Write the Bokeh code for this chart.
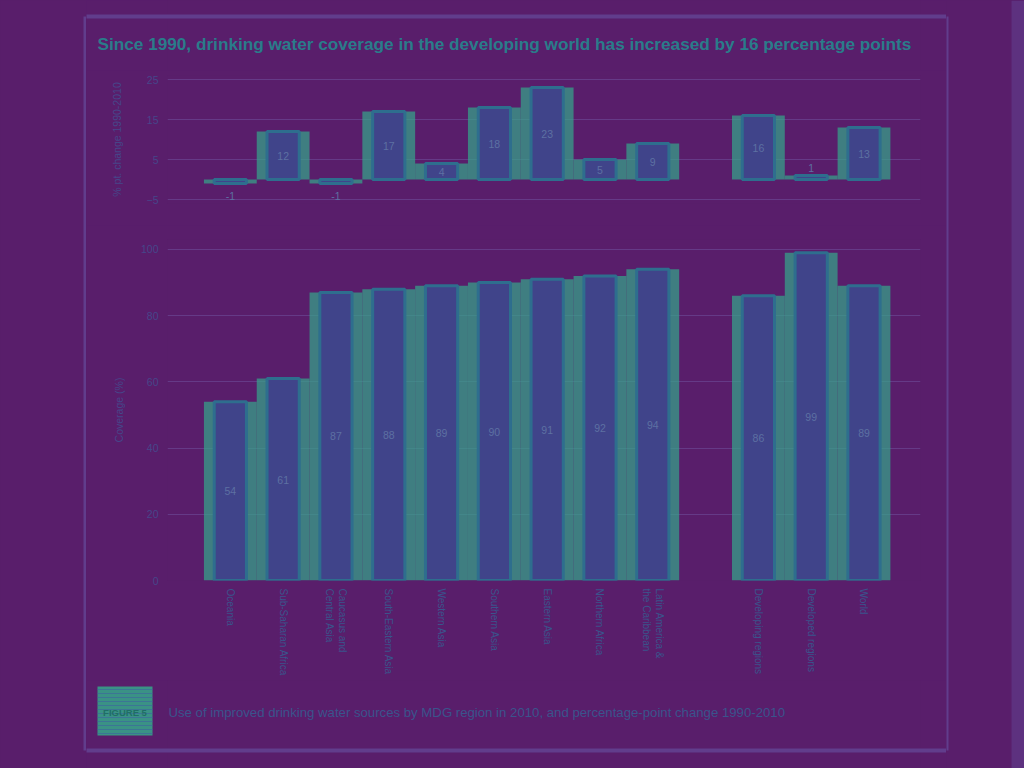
from bokeh.plotting import figure
from bokeh.layouts import column, row
from bokeh.models import Range1d, FixedTicker, ColumnDataSource
from bokeh.core.properties import value
from bokeh.embed import file_html
from bokeh.resources import INLINE

# ---------------- data ----------------
regions = ["Oceania", "Sub-Saharan Africa", "Caucasus and\nCentral Asia",
           "South-Eastern Asia", "Western Asia", "Southern Asia", "Eastern Asia",
           "Northern Africa", "Latin America &\nthe Caribbean",
           "Developing regions", "Developed regions", "World"]
coverage_2010 = [54, 61, 87, 88, 89, 90, 91, 92, 94, 86, 99, 89]
change_1990_2010 = [-1, 12, -1, 17, 4, 18, 23, 5, 9, 16, 1, 13]
n_mdg_regions = 9  # first 9 are MDG regions, the rest are aggregates
coverage_ticks = [0, 20, 40, 60, 80, 100]
change_ticks = [-5, 5, 15, 25]
title_text = "Since 1990, drinking water coverage in the developing world has increased by 16 percentage points"
figure_tag = "FIGURE 5"
caption_text = "Use of improved drinking water sources by MDG region in 2010, and percentage-point change 1990-2010"

# ---------------- style ----------------
BG = "#591e6b"
FRAME = "#613d8c"
BAR_FILL = "#40448a"
BAR_LINE = "#2e6e8e"
HALO = "#35a78a"
GRID = "#6b4693"
TICK_C = "#46468a"
CAT_C = "#3a548c"
VAL_C = "#5d70a2"
TITLE_C = "#2a7c8a"
SANS = "Liberation Sans, Arial, sans-serif"
BGSTYLE = {"background-color": BG}

xs = [i + (1 if i >= n_mdg_regions else 0) for i in range(len(regions))]
label_map = {x: r for x, r in zip(xs, regions)}


def val_pos(v, small=3):
    if abs(v) < small:
        return v + (1.8 if v > 0 else -3.0)
    return v / 2.0


src = ColumnDataSource(dict(
    x=xs, cov=coverage_2010, chg=change_1990_2010,
    cov_txt=[str(v) for v in coverage_2010],
    chg_txt=[str(v) for v in change_1990_2010],
    cov_lab=[v / 2.0 for v in coverage_2010],
    chg_lab=[val_pos(v) for v in change_1990_2010],
))

MID_W = 860
XR = (-1.19, 13.07)
BL, BR = 81, 26  # side borders of every figure in the middle column


def base_fig(h, **kw):
    return figure(width=MID_W, height=h, output_backend="svg", toolbar_location=None,
                  background_fill_color=BG, border_fill_color=BG, outline_line_color=None,
                  styles=BGSTYLE, **kw)


def strip(h, y0, w=MID_W, bl=BL, br=BR, x0=86):
    # frame covers page x (x0+bl)..(x0+w-br); ranges in page pixels
    p = figure(width=w, height=h, output_backend="svg", toolbar_location=None,
               x_range=Range1d(x0 + bl, x0 + w - br), y_range=Range1d(y0 + h, y0),
               x_axis_location=None, y_axis_location=None,
               background_fill_color=BG, border_fill_color=BG, outline_line_color=None,
               min_border_left=bl, min_border_right=br, min_border_top=0, min_border_bottom=0,
               styles=BGSTYLE)
    p.grid.visible = False
    return p


def style_y(p, ticks, label, standoff):
    ax = p.yaxis[0]
    ax.ticker = FixedTicker(ticks=ticks)
    ax.axis_line_color = None
    ax.major_tick_line_color = None
    ax.minor_tick_line_color = None
    ax.major_tick_out = 0
    ax.major_label_standoff = 9
    ax.major_label_text_font = SANS
    ax.major_label_text_font_size = "10.5px"
    ax.major_label_text_color = TICK_C
    ax.axis_label = label
    ax.axis_label_text_font = SANS
    ax.axis_label_text_font_size = "10.5px"
    ax.axis_label_text_font_style = "normal"
    ax.axis_label_text_color = TICK_C
    ax.axis_label_standoff = standoff
    p.ygrid.ticker = FixedTicker(ticks=ticks)
    p.ygrid.grid_line_color = GRID
    p.ygrid.grid_line_alpha = 0.7
    p.xgrid.visible = False


def bars(p, top, lab, txt):
    p.vbar(x="x", top=top, bottom=0, width=1.0, source=src, fill_color=HALO, fill_alpha=0.7,
           line_color=None)
    p.vbar(x="x", top=top, bottom=0, width=0.61, source=src, fill_color=BAR_FILL,
           line_color=BAR_LINE, line_width=3)
    p.text(x="x", y=lab, text=txt, source=src, text_font=value(SANS),
           text_font_size=value("10.5px"), text_color=VAL_C, text_align="center",
           text_baseline="middle")


# ---- title strip (page y 0..70)
t = strip(70, 0)
t.text(x=[97], y=[43], text=[title_text], text_font=value(SANS), text_font_size=value("17.2px"),
       text_font_style="bold", text_color=TITLE_C, text_align="left", text_baseline="middle",
       level="overlay")
t.segment(x0=[86], y0=[16], x1=[946], y1=[16], line_color=FRAME, line_width=4, level="overlay")

# ---- top chart (page y 70..225), frame 75..203
a = base_fig(155, x_range=Range1d(*XR), y_range=Range1d(-6, 26), x_axis_location=None,
             min_border_top=5, min_border_bottom=22, min_border_left=BL, min_border_right=BR)
style_y(a, change_ticks, "% pt. change 1990-2010", 21)
bars(a, "chg", "chg_lab", "chg_txt")

# ---- bottom chart (page y 225..680), frame 239..580
b = base_fig(455, x_range=Range1d(*XR), y_range=Range1d(0, 103.0),
             min_border_top=14, min_border_bottom=100, min_border_left=BL, min_border_right=BR)
style_y(b, coverage_ticks, "Coverage (%)", 13)
xa = b.xaxis[0]
xa.ticker = FixedTicker(ticks=xs)
xa.major_label_overrides = label_map
xa.major_label_orientation = "vertical"
xa.axis_line_color = None
xa.major_tick_line_color = None
xa.minor_tick_line_color = None
xa.major_tick_out = 0
xa.major_label_standoff = 8
xa.major_label_text_font = SANS
xa.major_label_text_font_size = "10px"
xa.major_label_text_color = CAT_C
bars(b, "cov", "cov_lab", "cov_txt")

# ---- caption strip (page y 680..768)
c = strip(88, 680)
c.quad(left=[97], right=[152], top=[686], bottom=[735], fill_color=HALO, fill_alpha=0.85,
       line_color=None, level="overlay")
c.segment(x0=[97] * 12, y0=list(range(689, 735, 4)), x1=[152] * 12, y1=list(range(689, 735, 4)),
          line_color="#3d62a0", line_width=1, line_alpha=0.6, level="overlay")
c.text(x=[124.5], y=[712], text=[figure_tag], text_font=value(SANS), text_font_size=value("9.5px"),
       text_font_style="bold", text_color="#1f6f66", text_align="center", text_baseline="middle",
       level="overlay")
c.text(x=[168], y=[712], text=[caption_text], text_font=value(SANS), text_font_size=value("13.2px"),
       text_color=CAT_C, text_align="left", text_baseline="middle", level="overlay")
c.segment(x0=[86], y0=[750], x1=[946], y1=[750], line_color=FRAME, line_width=4, level="overlay")

# ---- side strips
left = strip(768, 0, w=86, bl=0, br=0, x0=0)
left.segment(x0=[85], y0=[16], x1=[85], y1=[750], line_color=FRAME, line_width=4)
right = strip(768, 0, w=78, bl=0, br=0, x0=946)
right.segment(x0=[946], y0=[16], x1=[946], y1=[750], line_color=FRAME, line_width=4)
right.quad(left=[1011], right=[1024], top=[0], bottom=[768], fill_color=FRAME, fill_alpha=0.6,
           line_color=None)

layout = row(left, column(t, a, b, c, spacing=0, styles=BGSTYLE), right, spacing=0, styles=BGSTYLE)

open("out.html", "w").write(file_html(layout, INLINE))
